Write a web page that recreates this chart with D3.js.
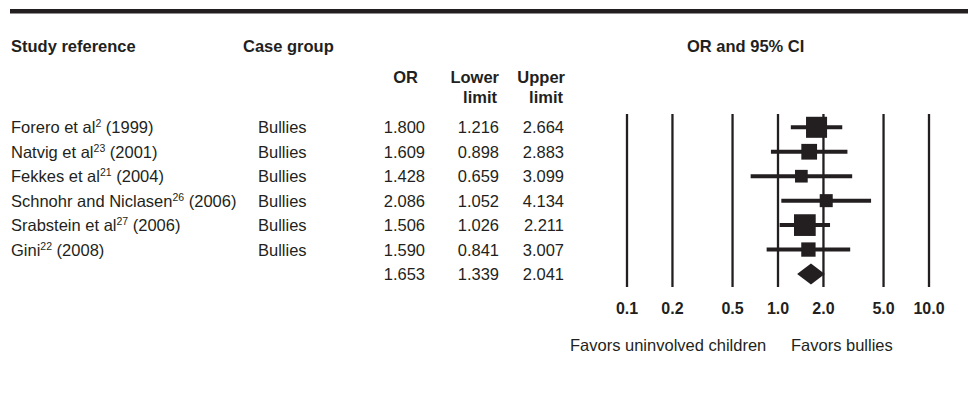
<!DOCTYPE html>
<html>
<head>
<meta charset="utf-8">
<script src="https://cdn.jsdelivr.net/npm/d3@7"></script>
<style>
  html, body { margin: 0; padding: 0; background: #fff; }
  svg { display: block; font-family: "Liberation Sans", Arial, Helvetica, sans-serif; }
</style>
</head>
<body>
<svg id="chart" width="968" height="420"></svg>
<script>
// Study rows (authors, reference number, year)
const studyNames = ["Forero et al", "Natvig et al", "Fekkes et al", "Schnohr and Niclasen", "Srabstein et al", "Gini"];
const studyRefs  = ["2", "23", "21", "26", "27", "22"];
const studyYears = ["1999", "2001", "2004", "2006", "2006", "2008"];
const caseGroups = ["Bullies", "Bullies", "Bullies", "Bullies", "Bullies", "Bullies"];

// Odds ratios with 95% confidence limits
const oddsRatios  = [1.800, 1.609, 1.428, 2.086, 1.506, 1.590];
const lowerLimits = [1.216, 0.898, 0.659, 1.052, 1.026, 0.841];
const upperLimits = [2.664, 2.883, 3.099, 4.134, 2.211, 3.007];
// Relative study weights (%), shown as square size
const weights     = [26.1, 14.6, 9.5, 10.0, 27.8, 12.1];

// Pooled estimate
const pooledOR = 1.653, pooledLower = 1.339, pooledUpper = 2.041;

// Axis ticks
const tickValues = [0.1, 0.2, 0.5, 1, 2, 5, 10];
const tickLabels = ["0.1", "0.2", "0.5", "1.0", "2.0", "5.0", "10.0"];

const ink = "#231f20";
const fs = "16.5px";
const svg = d3.select("#chart");

const x = d3.scaleLog().domain([0.1, 10]).range([627, 929]);
const y = d3.scaleLinear().domain([0, 6]).range([127.3, 274]);
const size = d3.scaleSqrt().domain([0, d3.max(weights)]).range([0, 21.7]);
const fmt = d3.format(".3f");

// Top rule
svg.append("rect").attr("x", 10).attr("y", 9).attr("width", 958).attr("height", 4.5).attr("fill", ink);

// Column headers
const bold = { "font-weight": "bold", "font-size": fs, fill: ink };
function label(xp, yp, txt, anchor, style) {
  const t = svg.append("text").attr("x", xp).attr("y", yp).attr("text-anchor", anchor || "start").text(txt);
  Object.entries(style).forEach(([k, v]) => t.attr(k, v));
  return t;
}
label(11, 52, "Study reference", "start", bold);
label(243, 52, "Case group", "start", bold);
label(687, 52, "OR and 95% CI", "start", bold);
label(418, 83, "OR", "end", bold);
label(499, 83, "Lower", "end", bold);
label(497, 102.5, "limit", "end", bold);
label(565, 83, "Upper", "end", bold);
label(563, 102.5, "limit", "end", bold);

const reg = { "font-size": fs, fill: ink };

// Study labels with superscript reference numbers
studyNames.forEach((name, i) => {
  const t = svg.append("text").attr("x", 11).attr("y", y(i) + 6).attr("font-size", fs).attr("fill", ink);
  t.append("tspan").text(name);
  t.append("tspan").attr("font-size", "10.5px").attr("dy", -6).text(studyRefs[i]);
  t.append("tspan").attr("dy", 6).text(" (" + studyYears[i] + ")");
  label(258, y(i) + 6, caseGroups[i], "start", reg);
  label(425, y(i) + 6, fmt(oddsRatios[i]), "end", reg);
  label(499, y(i) + 6, fmt(lowerLimits[i]), "end", reg);
  label(564, y(i) + 6, fmt(upperLimits[i]), "end", reg);
});
label(425, y(6) + 6, fmt(pooledOR), "end", reg);
label(499, y(6) + 6, fmt(pooledLower), "end", reg);
label(564, y(6) + 6, fmt(pooledUpper), "end", reg);

// Vertical reference lines at each tick
svg.append("g").selectAll("line").data(tickValues).join("line")
  .attr("x1", d => x(d)).attr("x2", d => x(d))
  .attr("y1", 114).attr("y2", 287)
  .attr("stroke", ink).attr("stroke-width", 2.3);

// Tick labels
svg.append("g").selectAll("text").data(tickValues).join("text")
  .attr("x", d => x(d)).attr("y", 313.5)
  .attr("text-anchor", "middle")
  .attr("font-weight", "bold").attr("font-size", "16px").attr("fill", ink)
  .text((d, i) => tickLabels[i]);

// Confidence intervals
const rows = oddsRatios.map((or, i) => ({ or, lo: lowerLimits[i], hi: upperLimits[i], w: weights[i], i }));
svg.append("g").selectAll("line").data(rows).join("line")
  .attr("x1", d => x(d.lo)).attr("x2", d => x(d.hi))
  .attr("y1", d => y(d.i)).attr("y2", d => y(d.i))
  .attr("stroke", ink).attr("stroke-width", 4);

// Point estimates sized by weight
svg.append("g").selectAll("rect").data(rows).join("rect")
  .attr("x", d => x(d.or) - size(d.w) / 2)
  .attr("y", d => y(d.i) - size(d.w) / 2)
  .attr("width", d => size(d.w)).attr("height", d => size(d.w))
  .attr("fill", ink);

// Pooled diamond
const yd = y(6), hh = 10.5;
svg.append("path")
  .attr("d", `M${x(pooledLower)},${yd} L${x(pooledOR)},${yd - hh} L${x(pooledUpper)},${yd} L${x(pooledOR)},${yd + hh} Z`)
  .attr("fill", ink);

// Direction labels
label(570, 351, "Favors uninvolved children", "start", reg);
label(791, 351, "Favors bullies", "start", reg);
</script>
</body>
</html>
